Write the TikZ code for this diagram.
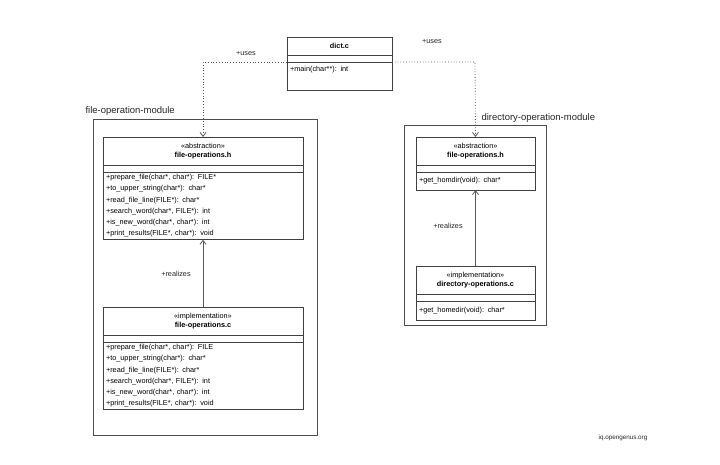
\documentclass[tikz,border=0pt]{standalone}
\usepackage{fontspec}
\setmainfont{Liberation Sans}
\usetikzlibrary{positioning,arrows.meta}
\begin{document}
\begin{tikzpicture}[x=1pt,y=-1pt]

 \tikzset{
      cls/.style={draw=black!75,thick,minimum width=#1,inner sep=0pt,outer sep=0pt,font=\fontsize{7.3}{9}\selectfont},
      hdr/.style={cls=#1,minimum height=28pt,align=center},
      gap/.style={cls=#1,minimum height=7pt},
      ops/.style={cls=#1,align=left,text width=#1-6pt,inner xsep=3pt,inner ysep=2.5pt,font=\fontsize{7.3}{11.2}\selectfont},
      module/.style={draw=black!70,thick},
      modlabel/.style={font=\fontsize{9.5}{11}\selectfont,anchor=base west,text=black!85},
      rel/.style={draw=black!65,thick,-{Straight Barb[length=4pt,width=6pt]}},
      dep/.style={rel,dotted},
      lbl/.style={font=\fontsize{7.3}{9}\selectfont,text=black!85},
    }

  \useasboundingbox (0,0) rectangle (720,465);

  %% modules
  \draw[module] (93,119) rectangle (317,435);
  \node[modlabel] (lfile) at (82,114) {file-operation-module};
  \draw[module] (404,125) rectangle (546,325);
  \node[modlabel] (ldir) at (478,121) {directory-operation-module};

  %% dict.c
  \node[hdr=105pt,minimum height=18pt,anchor=north west] (dicth) at (287,37) {\textbf{dict.c}};
  \node[gap=105pt,below=0pt of dicth] (dictg) {};
  \node[ops=105pt,minimum height=28pt,text depth=15pt,below=0pt of dictg] (dicto) {+main(char**): int};

  %% file-operations.h
  \node[hdr=200pt,anchor=north west] (fhh) at (103,137) {«abstraction»\\\textbf{file-operations.h}};
  \node[gap=200pt,below=0pt of fhh] (fhg) {};
  \node[ops=200pt,below=0pt of fhg] (fho) {+prepare\_file(char*, char*): FILE*\\+to\_upper\_string(char*): char*\\+read\_file\_line(FILE*): char*\\+search\_word(char*, FILE*): int\\+is\_new\_word(char*, char*): int\\+print\_results(FILE*, char*): void};

  %% file-operations.c
  \node[hdr=200pt,anchor=north west] (fch) at (103,307) {«implementation»\\\textbf{file-operations.c}};
  \node[gap=200pt,below=0pt of fch] (fcg) {};
  \node[ops=200pt,below=0pt of fcg] (fco) {+prepare\_file(char*, char*): FILE\\+to\_upper\_string(char*): char*\\+read\_file\_line(FILE*): char*\\+search\_word(char*, FILE*): int\\+is\_new\_word(char*, char*): int\\+print\_results(FILE*, char*): void};

  %% directory module
  \node[hdr=119pt,anchor=north west] (dhh) at (416,137) {«abstraction»\\\textbf{file-operations.h}};
  \node[gap=119pt,below=0pt of dhh] (dhg) {};
  \node[ops=119pt,minimum height=18pt,below=0pt of dhg] (dho) {+get\_homdir(void): char*};

  \node[hdr=119pt,anchor=north west] (dch) at (416,266) {«implementation»\\\textbf{directory-operations.c}};
  \node[gap=119pt,below=0pt of dch] (dcg) {};
  \node[ops=119pt,minimum height=19pt,below=0pt of dcg] (dco) {+get\_homedir(void): char*};

  %% connectors
  \coordinate (ul) at (203,62);
  \coordinate (ur) at (475,62);
  \draw[dep] (dicto.north west) -- (ul) -- (fhh.north);
  \draw[dep] (dicto.north east) -- (ur) -- (dhh.north);
  \draw[rel] (fch.north) -- (fho.south);
  \draw[rel] (dch.north) -- (dho.south);

  \node[lbl] (uses1) at (246,53) {+uses};
  \node[lbl] (uses2) at (432,41) {+uses};
  \node[lbl] (real1) at (176,274) {+realizes};
  \node[lbl] (real2) at (448,226) {+realizes};

  \node[lbl,font=\fontsize{6.3}{7}\selectfont] (src) at (623,438) {iq.opengenus.org};

\end{tikzpicture}
\end{document}
